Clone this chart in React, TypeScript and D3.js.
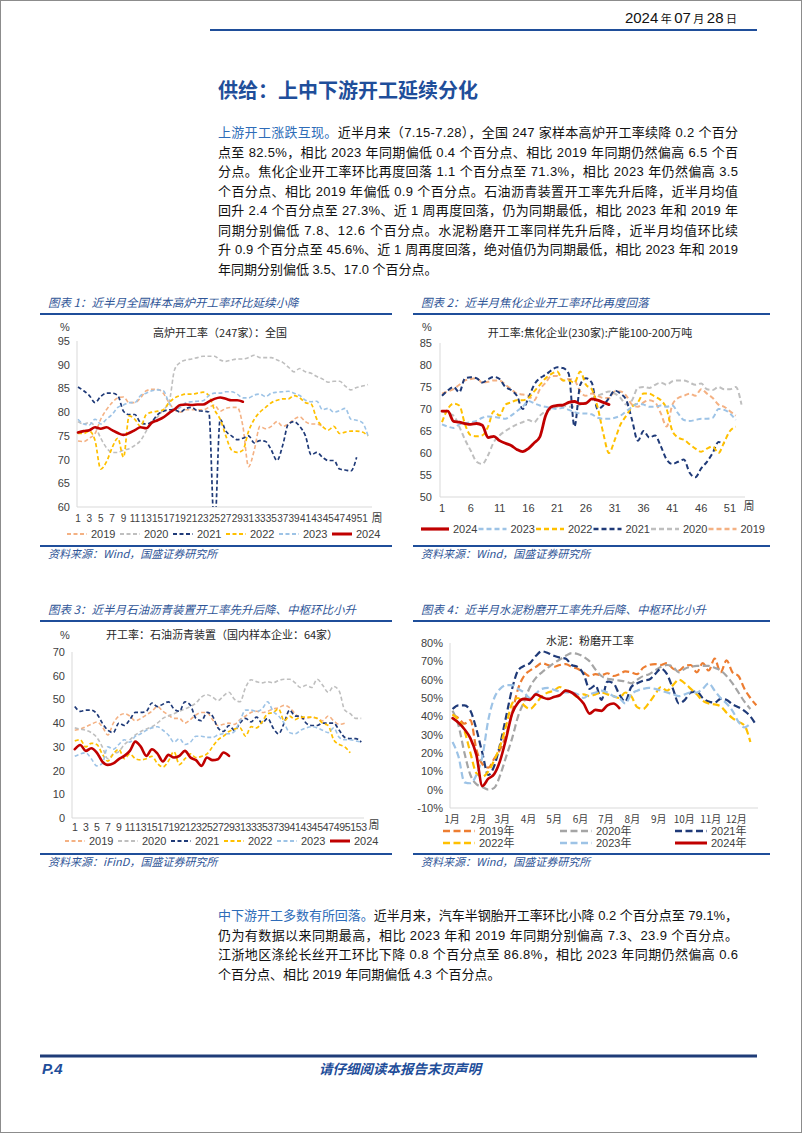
import React from 'react';
import * as d3 from 'd3';

const SANS = '"Liberation Sans", "Noto Sans CJK SC", sans-serif';
const CJK = '"Noto Sans CJK SC", "Liberation Sans", sans-serif';
const BLUE = '#1f4e9a';
const TITLE_BLUE = '#2f5597';

// ---------- Chart 1: blast furnace utilisation (247), weekly ----------
const bfWeekTicks = d3.range(1, 52, 2);
const bfYTicks = [60, 65, 70, 75, 80, 85, 90, 95];
const bf2019 = [73.9, 73.8, 74.5, 75.5, 78.5, 80.5, 82, 83, 83.2, 82, 82, 83, 84.5, 84.8, 84.8, 84, 82, 80.5, 80, 80.5, 80.5, 80.5, 80.5, 81, 81.5, 80.2, 80.8, 81, 81, 77, 68.5, 72, 77, 76.5, 77, 78, 77, 77.5, 78.5, 79, 78, 77.5, 77.5, 77];
const bf2020 = [78, 77.5, 77.8, 77, 74.5, 72.5, 71.5, 71.5, 72, 72.3, 73, 74, 76, 78, 79, 80.5, 82, 89, 90.5, 91, 91.2, 91.5, 91.8, 91.8, 91.8, 91, 90.7, 91, 91.2, 91.2, 91.5, 92, 91.5, 91.5, 91.5, 91, 90.5, 89.5, 88.5, 89.2, 88.5, 88.2, 87.5, 87, 86.3, 86.5, 86.5, 85.5, 84.7, 85.2, 85.5, 85.8];
const bf2021 = [85.3, 84.5, 83.5, 82, 83.3, 84, 84, 83.5, 80.2, 79.5, 79.5, 77.8, 77.5, 78, 79.5, 80.2, 80.5, 80.5, 80, 80.8, 81, 80.3, 80.2, 80, 55, 78.5, 76, 75, 74.2, 74.5, 75, 73.5, 74, 73.8, 72, 69.8, 73, 77.5, 78, 77, 75, 71, 71.5, 70.5, 69.8, 69.8, 68, 67.8, 67.6, 70.5];
const bf2022 = [75.5, 75.5, 76, 74, 68, 69.5, 72.5, 74.5, 70.5, 79.2, 78.5, 77, 79.5, 80, 80.2, 80.5, 82, 83, 83.5, 83.8, 83.8, 84, 84.2, 83.5, 80.5, 78.5, 75, 72, 71.5, 72, 76, 78.5, 80, 81, 82, 82.5, 82.8, 82.8, 83.5, 83, 82, 81.7, 78.5, 77, 76.2, 77, 75.5, 75.8, 76, 76, 75.8, 75];
const bf2023 = [78.5, 77.5, 77.3, 78.5, 77.5, 78.5, 79.5, 81, 81.5, 82, 82, 83.5, 84, 84.5, 84.7, 84.5, 82, 80.5, 81, 82, 82.2, 82.3, 82.4, 83.5, 84, 84, 84.3, 84.3, 83.8, 83, 83, 83.6, 83.8, 83.3, 84, 84.2, 84.3, 84.4, 84, 83.5, 82.5, 82.2, 82.3, 80.5, 80.8, 80, 80.3, 80.8, 78.5, 78.3, 77.8, 75];
const bf2024 = [75.7, 76.0, 76.2, 76.8, 76.5, 76.8, 76.2, 75.6, 75.2, 75.6, 76.2, 76.8, 76.6, 77.8, 78.3, 78.9, 79.8, 80.6, 81.5, 81.6, 81.5, 81.6, 81.6, 82.2, 82.8, 83.1, 82.8, 82.5, 82.5, 82.2];

// ---------- Chart 2: coking plants (230) ----------
const ckWeekTicks = d3.range(1, 52, 5);
const ckYTicks = [50, 55, 60, 65, 70, 75, 80, 85];
const ck2019 = [73.5, 74.0, 74.5, 75.5, 76.5, 76.8, 77.0, 76.0, 76.2, 76.5, 76.5, 75.5, 74.5, 73.5, 73.3, 73.0, 72.0, 74.5, 76.0, 77.5, 77.5, 76.5, 76.8, 76.5, 74.0, 73.0, 73.5, 73.0, 72.5, 72.5, 74.0, 74.0, 73.0, 71.0, 70.5, 71.5, 72.0, 71.5, 69.0, 66.0, 71.0, 72.5, 73.0, 73.5, 73.0, 74.5, 73.5, 72.5, 71.0, 70.5, 69.5, 68.5];
const ck2020 = [69.5, 69.0, 68.5, 66.0, 63.0, 60.5, 58.0, 57.5, 59.5, 62.5, 64.0, 65.0, 65.8, 66.5, 67.0, 67.5, 67.0, 68.5, 69.5, 70.0, 70.5, 70.8, 70.5, 70.5, 71.0, 71.5, 72.0, 73.0, 73.5, 74.0, 73.5, 72.5, 71.0, 72.0, 74.8, 75.0, 74.8, 75.5, 76.0, 75.5, 76.3, 76.5, 76.5, 76.0, 75.5, 75.8, 74.5, 74.3, 75.0, 74.5, 74.5, 75.0, 71.0];
const ck2021 = [73.0, 74.2, 75.0, 73.8, 77.0, 77.2, 77.0, 76.0, 76.8, 77.3, 76.8, 75.0, 74.3, 73.0, 70.0, 72.5, 75.5, 77.0, 77.8, 78.8, 79.5, 79.3, 78.0, 66.0, 75.5, 77.0, 76.0, 70.0, 70.8, 72.5, 74.2, 73.5, 72.0, 67.5, 62.8, 65.0, 63.5, 64.0, 61.5, 58.5, 57.5, 58.0, 58.5, 55.5, 54.5, 56.5, 58.0, 60.0, 62.5, 62.0];
const ck2022 = [67, 70, 71.2, 70.8, 66.5, 64, 63.8, 64, 66, 69.5, 68.5, 71, 71.5, 72, 72, 72.5, 74, 75.5, 77, 78, 78.5, 76.5, 76.5, 76, 78.5, 75.5, 74.5, 70.5, 64.5, 60, 63, 66.5, 68.5, 70.5, 71.5, 73.5, 73.5, 72.8, 72, 70, 65, 63.5, 63, 62, 61, 60.3, 61, 61.5, 60, 62.5, 65, 66];
const ck2023 = [66.5, 66.0, 65.7, 66.5, 66.8, 67.0, 67.3, 68.0, 68.3, 68.2, 68.0, 67.8, 68.5, 69.5, 70.5, 71.8, 71.3, 70.8, 70.5, 70.2, 70.0, 70.3, 69.8, 69.3, 69.0, 69.0, 68.8, 68.0, 67.8, 67.8, 68.0, 68.5, 69.5, 70.5, 71.2, 71.0, 70.5, 70.5, 70.8, 70.5, 70.8, 69.0, 67.5, 67.3, 67.5, 67.8, 67.8, 68.0, 70.0, 69.8, 69.0, 67.5];
const ck2024 = [69.5, 69.5, 67.2, 67, 66.7, 66.5, 66.7, 66.3, 63.5, 63.8, 62.8, 62.2, 61.7, 60.8, 60.3, 61, 62.3, 63.7, 68.5, 70.5, 70.8, 70.9, 71.5, 71.7, 71.2, 71.3, 72.3, 72.0, 71.5, 71.0];

// ---------- Chart 3: asphalt units (64) ----------
const asWeekTicks = d3.range(1, 54, 2);
const asYTicks = [0, 10, 20, 30, 40, 50, 60, 70];
const as2019 = [37, 37.5, 38.5, 39.5, 40.5, 38.5, 35, 40, 43, 44, 43, 41, 42, 43.5, 45, 47, 45, 43.5, 42, 42, 40, 41.5, 43.5, 44.5, 44.5, 41.5, 39, 39.5, 40, 39.5, 41.5, 43, 44.5, 45, 44.5, 45, 46, 46.5, 47.5, 46.5, 44, 42, 42, 42.5, 42, 41, 43, 41, 39.5, 40];
const as2020 = [38, 37.5, 37, 36, 34, 30, 25, 27, 28, 31, 33, 35, 36.5, 37.5, 38.5, 40, 42, 43, 44, 45, 46, 47, 48.5, 51, 52, 51, 49.5, 51.5, 53, 50, 49, 55, 58.3, 57.5, 57, 57.5, 57, 58, 58.5, 58.5, 57, 55, 56, 55, 58.5, 56, 53, 55.5, 53.5, 45.5, 44, 42, 42];
const as2021 = [47, 45, 45.5, 45.5, 44, 40, 37, 36, 40, 39, 41.5, 44.5, 44.5, 45, 48.5, 47, 48, 49, 46, 45, 49, 47.5, 42, 41, 44.5, 43, 38, 36.5, 39, 37, 40, 42, 40.5, 42.5, 40, 42, 38, 35.5, 40, 45.5, 43, 43, 40, 39, 39, 40, 40, 40, 37, 34, 33.5, 33.5, 32];
const as2022 = [32.5, 33, 30, 31.5, 31, 27, 24, 27, 29, 25, 27, 25, 24.5, 25, 26, 23, 21.5, 24, 28, 22.5, 25, 27, 25.5, 26, 27, 30, 33, 34.5, 36.5, 37.5, 38, 34.5, 38.5, 38, 40.5, 44, 44.5, 46, 41, 43, 41.5, 42.5, 42.5, 42.5, 42, 40, 39, 33, 31, 30, 27.5];
const as2023 = [26, 27, 27.5, 25, 22, 23, 30, 29, 31, 33, 32, 34.5, 35.5, 37, 38, 38.5, 37, 35, 32, 33.5, 31, 32, 34.5, 34.5, 34, 34, 35, 35.5, 35.5, 36.5, 41, 45.5, 45.5, 45, 46, 49, 45, 43, 40, 36, 35.5, 37, 38, 38.5, 38, 37, 36, 38, 34, 33, 33, 32.5, 32];
const as2024 = [29.0, 30.8, 28.3, 29.4, 27.6, 23.8, 22.4, 23.0, 24.8, 26.2, 28.3, 32.2, 30.0, 26.2, 29.0, 27.2, 23.8, 26.6, 25.5, 26.2, 28.3, 25.5, 24.4, 22.0, 25.5, 24.4, 24.8, 27.6, 26.2];

// ---------- Chart 4: cement grinding (weekly, by date) ----------
const cmMonthLabels = ['1月', '2月', '3月', '4月', '5月', '6月', '7月', '8月', '9月', '10月', '11月', '12月'];
const cmMonthStartDays = [0, 31, 59, 90, 120, 151, 181, 212, 243, 273, 304, 334];
const cmYTicks = [-10, 0, 10, 20, 30, 40, 50, 60, 70, 80];
const cm2019 = [41, 39, 36, 38, 22, 14, 12, 17, 22, 30, 42, 55, 62, 65, 67, 69, 68, 67, 68, 68.5, 67, 66, 64, 62, 63, 62.5, 63.5, 62, 63, 64.5, 64, 63, 66.5, 68, 68.5, 68, 69, 66, 65, 67.5, 68, 64, 69, 65, 71.5, 64, 70.5, 64, 62, 55, 50, 46];
const cm2020 = [43, 35, 20, 8, 3, 1.5, 0, 1, 8, 18, 28, 40, 48, 56, 61, 64, 66.5, 69, 71, 73, 74.5, 74, 72.5, 70, 65.5, 62, 60.5, 60, 59.5, 59, 58, 60, 62, 63, 65, 67, 68, 67, 64, 66, 67, 67.5, 67.5, 67.5, 66.5, 65, 62, 58, 53, 48, 44];
const cm2021 = [44, 46, 46, 43, 33, 20, 8, 13, 25, 40, 55, 65, 67.5, 69, 73, 75.5, 74.5, 73, 72, 71.5, 68, 67, 63, 55, 57, 49, 59, 58, 52, 48, 56, 58, 59.5, 60, 63, 66, 63, 55, 47, 49, 53, 53.5, 50, 48, 47.5, 49.5, 49, 46.5, 45, 43, 40, 35];
const cm2022 = [41, 38, 32, 20, 9, 7, 10, 16, 24, 35, 47, 50, 46, 44, 47, 51, 53, 54, 56, 54, 53, 50.5, 52, 51, 52, 53, 52, 51, 50, 53, 51, 45, 44, 47.5, 52, 56, 54, 57, 60, 58, 55, 52, 48.5, 47, 46.5, 45.5, 42, 39, 37, 35, 26];
const cm2023 = [26, 18, 4, 3.5, 8, 18, 38, 50, 55, 57, 57, 55, 53, 50, 52.5, 55, 55.5, 54.5, 53.5, 53, 53, 52, 50, 52, 53, 54, 53, 51, 50, 47, 52, 54, 55, 55.5, 55, 54, 53, 52, 51, 52, 53, 53, 55, 58, 54, 50, 47, 43, 37, 34, 36];
const cm2024 = [39, 36.5, 33, 28, 19, 2, 6, 8.5, 16, 28, 41.5, 47.5, 49.5, 49, 52, 50.5, 49.5, 50.5, 51.5, 54, 53, 50.5, 47, 41.5, 43.5, 43, 46, 47, 44.5];

const years = ['2019', '2020', '2021', '2022', '2023', '2024'];

type Sty = { color: string; dash: string; w: number };
const lightStyles: Record<string, Sty> = {
  '2019': { color: '#f4b183', dash: '4,2.5', w: 1.6 },
  '2020': { color: '#bfbfbf', dash: '4,2.5', w: 1.6 },
  '2021': { color: '#1f3a78', dash: '4,2.5', w: 1.7 },
  '2022': { color: '#ffc000', dash: '4,2.5', w: 1.7 },
  '2023': { color: '#9dc3e6', dash: '4,2.5', w: 1.6 },
  '2024': { color: '#c00000', dash: '', w: 2.6 },
};
const cokeStyles: Record<string, Sty> = {
  '2019': { color: '#f4b183', dash: '5,3', w: 2 },
  '2020': { color: '#bfbfbf', dash: '5,3', w: 2 },
  '2021': { color: '#1f3a78', dash: '5,3', w: 2 },
  '2022': { color: '#ffc000', dash: '5,3', w: 2 },
  '2023': { color: '#9dc3e6', dash: '5,3', w: 2 },
  '2024': { color: '#c00000', dash: '', w: 2.8 },
};
const cementStyles: Record<string, Sty> = {
  '2019': { color: '#ed7d31', dash: '7,3.5', w: 2.2 },
  '2020': { color: '#a5a5a5', dash: '7,3.5', w: 2.2 },
  '2021': { color: '#1f3a78', dash: '7,3.5', w: 2.2 },
  '2022': { color: '#ffc000', dash: '7,3.5', w: 2.2 },
  '2023': { color: '#9dc3e6', dash: '7,3.5', w: 2.2 },
  '2024': { color: '#c00000', dash: '', w: 2.6 },
};

const bfData = [bf2019, bf2020, bf2021, bf2022, bf2023, bf2024];
const ckData = [ck2019, ck2020, ck2021, ck2022, ck2023, ck2024];
const asData = [as2019, as2020, as2021, as2022, as2023, as2024];
const cmData = [cm2019, cm2020, cm2021, cm2022, cm2023, cm2024];

function linePath(values: number[], xf: (i: number) => number, y: (v: number) => number) {
  return d3.line<number>().x((_, i) => xf(i)).y((v) => y(v)).curve(d3.curveMonotoneX)(values) || '';
}

function Series({ data, xf, y, styles, clip }: any) {
  return (
    <g clipPath={clip ? `url(#${clip})` : undefined}>
      {data.map((vals: number[], k: number) => {
        const s = styles[years[k]];
        return (
          <path key={k} d={linePath(vals, xf, y)} fill="none" stroke={s.color} strokeWidth={s.w}
            strokeDasharray={s.dash || undefined} strokeLinejoin="round" strokeLinecap={s.dash ? 'butt' : 'round'} />
        );
      })}
    </g>
  );
}

function LegendItem({ x, y, len, label, s, fs }: any) {
  return (
    <g>
      <line x1={x} x2={x + len} y1={y} y2={y} stroke={s.color} strokeWidth={s.w + 0.4} strokeDasharray={s.dash || undefined} />
      <text x={x + len + 4} y={y + 4} fontSize={fs} fontFamily={SANS} fill="#404040">{label}</text>
    </g>
  );
}

function PanelFrame({ x1, x2, yTop, yBottom, title, source }: any) {
  return (
    <g>
      <text x={x1 + 8} y={yTop - 7} fontSize={11.5} fontStyle="italic" fontFamily={CJK} fill={TITLE_BLUE}>{title}</text>
      <line x1={x1} x2={x2} y1={yTop} y2={yTop} stroke={BLUE} strokeWidth={2} />
      <line x1={x1} x2={x2} y1={yBottom} y2={yBottom} stroke={BLUE} strokeWidth={2} />
      <text x={x1 + 8} y={yBottom + 12} fontSize={11} fontStyle="italic" fontFamily={CJK} fill={TITLE_BLUE}>{source}</text>
    </g>
  );
}

function Chart1() {
  const x = d3.scaleLinear().domain([1, 52]).range([78, 368]);
  const y = d3.scaleLinear().domain([60, 95]).range([507, 341]);
  const xf = (i: number) => x(i + 1);
  return (
    <g>
      <PanelFrame x1={40} x2={392} yTop={314} yBottom={546} title="图表 1：近半月全国样本高炉开工率环比延续小降" source="资料来源：Wind，国盛证券研究所" />
      <defs><clipPath id="c1"><rect x={70} y={330} width={310} height={y(60) - 330} /></clipPath></defs>
      <text x={60} y={331} fontSize={11} fontFamily={SANS} fill="#404040">%</text>
      <text x={220} y={337} fontSize={11} fontFamily={CJK} textAnchor="middle" fill="#262626">高炉开工率（247家）：全国</text>
      <line x1={77} x2={77} y1={y(95)} y2={y(60)} stroke="#d9d9d9" />
      <line x1={77} x2={372} y1={y(60)} y2={y(60)} stroke="#d9d9d9" />
      {bfYTicks.map((t) => <text key={t} x={70} y={y(t) + 4} fontSize={11} fontFamily={SANS} textAnchor="end" fill="#404040">{t}</text>)}
      {bfWeekTicks.map((t) => <text key={t} x={x(t)} y={522} fontSize={10} fontFamily={SANS} textAnchor="middle" fill="#404040">{t}</text>)}
      <text x={377} y={522} fontSize={11} fontFamily={CJK} textAnchor="middle" fill="#404040">周</text>
      <Series data={bfData} xf={xf} y={y} styles={lightStyles} clip="c1" />
      {years.map((yr, k) => <LegendItem key={yr} x={67 + k * 53} y={534} len={20} label={yr} s={lightStyles[yr]} fs={11} />)}
    </g>
  );
}

function Chart2() {
  const x = d3.scaleLinear().domain([1, 53]).range([442, 741.5]);
  const y = d3.scaleLinear().domain([50, 85]).range([497, 343]);
  const xf = (i: number) => x(i + 1);
  const order = [5, 4, 3, 2, 1, 0];
  return (
    <g>
      <PanelFrame x1={413} x2={770} yTop={314} yBottom={546} title="图表 2：近半月焦化企业开工率环比再度回落" source="资料来源：Wind，国盛证券研究所" />
      <text x={422} y={331} fontSize={11} fontFamily={SANS} fill="#404040">%</text>
      <text x={590} y={337} fontSize={11} fontFamily={CJK} textAnchor="middle" fill="#262626">开工率:焦化企业(230家):产能100-200万吨</text>
      <line x1={440} x2={440} y1={y(85)} y2={y(50)} stroke="#d9d9d9" />
      <line x1={440} x2={745} y1={y(50)} y2={y(50)} stroke="#d9d9d9" />
      {ckYTicks.map((t) => <text key={t} x={432} y={y(t) + 4} fontSize={11} fontFamily={SANS} textAnchor="end" fill="#404040">{t}</text>)}
      {ckWeekTicks.map((t) => <text key={t} x={x(t)} y={512} fontSize={11} fontFamily={SANS} textAnchor="middle" fill="#404040">{t}</text>)}
      <text x={749} y={510} fontSize={11} fontFamily={CJK} textAnchor="middle" fill="#404040">周</text>
      <Series data={ckData} xf={xf} y={y} styles={cokeStyles} />
      {order.map((k, j) => <LegendItem key={k} x={421 + j * 57.5} y={529} len={28} label={years[k]} s={cokeStyles[years[k]]} fs={11} />)}
    </g>
  );
}

function Chart3() {
  const x = d3.scaleLinear().domain([0.5, 53.5]).range([72, 364]);
  const y = d3.scaleLinear().domain([0, 70]).range([818, 652]);
  const xf = (i: number) => x(i + 1);
  return (
    <g>
      <PanelFrame x1={40} x2={392} yTop={621} yBottom={854} title="图表 3：近半月石油沥青装置开工率先升后降、中枢环比小升" source="资料来源：iFinD，国盛证券研究所" />
      <text x={60} y={639} fontSize={11} fontFamily={SANS} fill="#404040">%</text>
      <text x={222} y={639} fontSize={11} fontFamily={CJK} textAnchor="middle" fill="#262626">开工率：石油沥青装置（国内样本企业：64家）</text>
      <line x1={72} x2={72} y1={y(70)} y2={y(0)} stroke="#d9d9d9" />
      <line x1={72} x2={364} y1={y(0)} y2={y(0)} stroke="#d9d9d9" />
      {asYTicks.map((t) => <text key={t} x={65} y={y(t) + 4} fontSize={11} fontFamily={SANS} textAnchor="end" fill="#404040">{t}</text>)}
      {asWeekTicks.map((t) => <text key={t} x={x(t)} y={831} fontSize={10.5} fontFamily={SANS} textAnchor="middle" fill="#404040" letterSpacing={-0.3}>{t}</text>)}
      <text x={374} y={829} fontSize={11} fontFamily={CJK} textAnchor="middle" fill="#404040">周</text>
      <Series data={asData} xf={xf} y={y} styles={lightStyles} />
      {years.map((yr, k) => <LegendItem key={yr} x={65 + k * 53} y={841} len={20} label={yr} s={lightStyles[yr]} fs={11} />)}
    </g>
  );
}

function Chart4() {
  const x = d3.scaleLinear().domain([0, 365]).range([450, 760.6]);
  const y = d3.scaleLinear().domain([-10, 80]).range([808, 643]);
  const xf = (i: number) => x(3 + 7 * i);
  const cols = [443, 560, 675];
  return (
    <g>
      <PanelFrame x1={413} x2={770} yTop={621} yBottom={854} title="图表 4：近半月水泥粉磨开工率先升后降、中枢环比小升" source="资料来源：Wind，国盛证券研究所" />
      <text x={590} y={645} fontSize={11} fontFamily={CJK} textAnchor="middle" fill="#262626">水泥：粉磨开工率</text>
      <line x1={450} x2={450} y1={y(80)} y2={y(-10)} stroke="#d9d9d9" />
      <line x1={450} x2={758} y1={y(-10)} y2={y(-10)} stroke="#d9d9d9" />
      {cmYTicks.map((t) => <text key={t} x={443} y={y(t) + 4} fontSize={11} fontFamily={SANS} textAnchor="end" fill="#404040">{t}%</text>)}
      {cmMonthLabels.map((m, k) => <text key={m} x={x(cmMonthStartDays[k]) + 2} y={823} fontSize={10} fontFamily={CJK} textAnchor="middle" fill="#404040">{m}</text>)}
      <Series data={cmData} xf={xf} y={y} styles={cementStyles} />
      {years.map((yr, k) => (
        <LegendItem key={yr} x={cols[k % 3]} y={k < 3 ? 831 : 843} len={32} label={`${yr}年`} s={cementStyles[yr]} fs={11} />
      ))}
    </g>
  );
}

const para1 = [
  ['上游开工涨跌互现。', '近半月来（7.15-7.28），全国 247 家样本高炉开工率续降 0.2 个百分'],
  ['', '点至 82.5%，相比 2023 年同期偏低 0.4 个百分点、相比 2019 年同期仍然偏高 6.5 个百'],
  ['', '分点。焦化企业开工率环比再度回落 1.1 个百分点至 71.3%，相比 2023 年仍然偏高 3.5'],
  ['', '个百分点、相比 2019 年偏低 0.9 个百分点。石油沥青装置开工率先升后降，近半月均值'],
  ['', '回升 2.4 个百分点至 27.3%、近 1 周再度回落，仍为同期最低，相比 2023 年和 2019 年'],
  ['', '同期分别偏低 7.8、12.6 个百分点。水泥粉磨开工率同样先升后降，近半月均值环比续'],
  ['', '升 0.9 个百分点至 45.6%、近 1 周再度回落，绝对值仍为同期最低，相比 2023 年和 2019'],
  ['', '年同期分别偏低 3.5、17.0 个百分点。'],
];
const para2 = [
  ['中下游开工多数有所回落。', '近半月来，汽车半钢胎开工率环比小降 0.2 个百分点至 79.1%，'],
  ['', '仍为有数据以来同期最高，相比 2023 年和 2019 年同期分别偏高 7.3、23.9 个百分点。'],
  ['', '江浙地区涤纶长丝开工环比下降 0.8 个百分点至 86.8%，相比 2023 年同期仍然偏高 0.6'],
  ['', '个百分点、相比 2019 年同期偏低 4.3 个百分点。'],
];

function Paragraph({ lines, y0, dy }: any) {
  return (
    <g>
      {lines.map((ln: string[], i: number) => {
        const last = i === lines.length - 1;
        return (
          <text key={i} x={218} y={y0 + i * dy} fontSize={13} fontFamily={SANS} fill="#111"
            textLength={last ? undefined : 520} lengthAdjust={last ? undefined : 'spacing'}>
            {ln[0] ? <tspan fill="#2e6cb8">{ln[0]}</tspan> : null}
            <tspan>{ln[1]}</tspan>
          </text>
        );
      })}
    </g>
  );
}

export default function App() {
  return (
    <div style={{ position: 'absolute', left: 0, top: 0 }}>
      <svg width={802} height={1133} style={{ display: 'block', background: '#fff' }}>
        <rect x={0.5} y={0.5} width={801} height={1132} fill="#fff" stroke="#8c8c8c" />
        <text x={737} y={23} textAnchor="end" fontFamily={SANS} fill="#111">
          <tspan fontSize={15}>2024</tspan><tspan fontSize={11} fontFamily={CJK}> 年 </tspan>
          <tspan fontSize={15}>07</tspan><tspan fontSize={11} fontFamily={CJK}> 月 </tspan>
          <tspan fontSize={15}>28</tspan><tspan fontSize={11} fontFamily={CJK}> 日</tspan>
        </text>
        <line x1={210} x2={757} y1={30} y2={30} stroke={BLUE} strokeWidth={2} />
        <text x={218} y={98} fontSize={20} fontWeight="bold" fontFamily={CJK} fill={BLUE}>供给：上中下游开工延续分化</text>
        <Paragraph lines={para1} y0={137} dy={19.5} />
        <Chart1 />
        <Chart2 />
        <Chart3 />
        <Chart4 />
        <Paragraph lines={para2} y0={920} dy={19.5} />
        <line x1={40} x2={757} y1={1056} y2={1056} stroke="#1f3c78" strokeWidth={3} />
        <text x={42} y={1074} fontSize={15} fontWeight="bold" fontStyle="italic" fontFamily={SANS} fill={BLUE}>P.4</text>
        <text x={400} y={1074} fontSize={13.5} fontWeight="bold" fontStyle="italic" fontFamily={CJK} textAnchor="middle" fill={BLUE}>请仔细阅读本报告末页声明</text>
      </svg>
    </div>
  );
}
